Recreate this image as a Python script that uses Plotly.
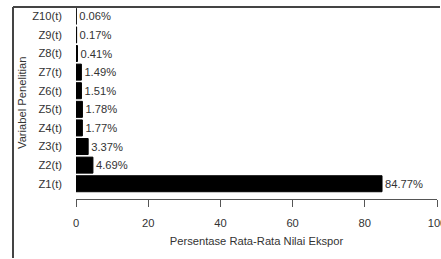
import plotly.graph_objects as go

categories = ["Z1(t)", "Z2(t)", "Z3(t)", "Z4(t)", "Z5(t)", "Z6(t)", "Z7(t)", "Z8(t)", "Z9(t)", "Z10(t)"]
values = [84.77, 4.69, 3.37, 1.77, 1.78, 1.51, 1.49, 0.41, 0.17, 0.06]
labels = ["84.77%", "4.69%", "3.37%", "1.77%", "1.78%", "1.51%", "1.49%", "0.41%", "0.17%", "0.06%"]
x_ticks = [0, 20, 40, 60, 80, 100]

FONT = "Liberation Sans, Arial, sans-serif"
FS = 11.2
TXT = "#333333"

W, H = 441, 259
L, R, T, B = 76, 4, 7, 60
PW, PH = W - L - R, H - T - B

fig = go.Figure(go.Bar(
    x=values, y=categories, orientation="h",
    marker=dict(color="black", line=dict(color="black", width=1)),
    text=labels, textposition="outside", cliponaxis=False,
    textfont=dict(family=FONT, size=FS, color=TXT),
    width=0.86,
))

bx = (13 - L) / PW
fig.update_layout(
    width=W, height=H,
    margin=dict(l=L, r=R, t=T, b=B, autoexpand=False),
    paper_bgcolor="white", plot_bgcolor="white",
    showlegend=False,
    font=dict(family=FONT, size=FS, color=TXT),
    xaxis=dict(
        range=[0, 100], tickvals=x_ticks, showgrid=False, zeroline=False,
        showline=True, linecolor="#555555", linewidth=1,
        ticks="outside", ticklen=7, tickcolor="#555555", tickwidth=1,
        ticklabelstandoff=7, automargin=False, ticklabeloverflow="allow",
        title=dict(text="Persentase Rata-Rata Nilai Ekspor", standoff=8,
                   font=dict(family=FONT, size=FS, color=TXT)),
    ),
    yaxis=dict(
        type="category", categoryorder="array", categoryarray=categories,
        range=[-0.82, 9.5], showgrid=False, zeroline=False, showline=False,
        ticks="", ticklabelstandoff=13, automargin=False,
    ),
    annotations=[dict(
        text="Variabel Penelitian", textangle=-90, showarrow=False,
        xref="paper", yref="paper", x=(22 - L) / PW, y=0.5,
        xanchor="center", yanchor="middle",
        font=dict(family=FONT, size=FS, color=TXT),
    )],
    shapes=[
        dict(type="line", xref="paper", yref="paper",
             x0=bx, x1=(W - 1 - L) / PW, y0=1.0, y1=1.0,
             line=dict(color="#444444", width=2)),
        dict(type="line", xref="paper", yref="paper",
             x0=bx, x1=bx, y0=1.0, y1=-(B - 1) / PH,
             line=dict(color="#444444", width=2)),
    ],
)

fig.write_html(
    "out.html",
    config={"displayModeBar": False},
    post_script=(
        "document.body.style.margin='0';"
        "document.body.style.overflow='hidden';"
        "document.documentElement.style.overflow='hidden';"
    ),
)
